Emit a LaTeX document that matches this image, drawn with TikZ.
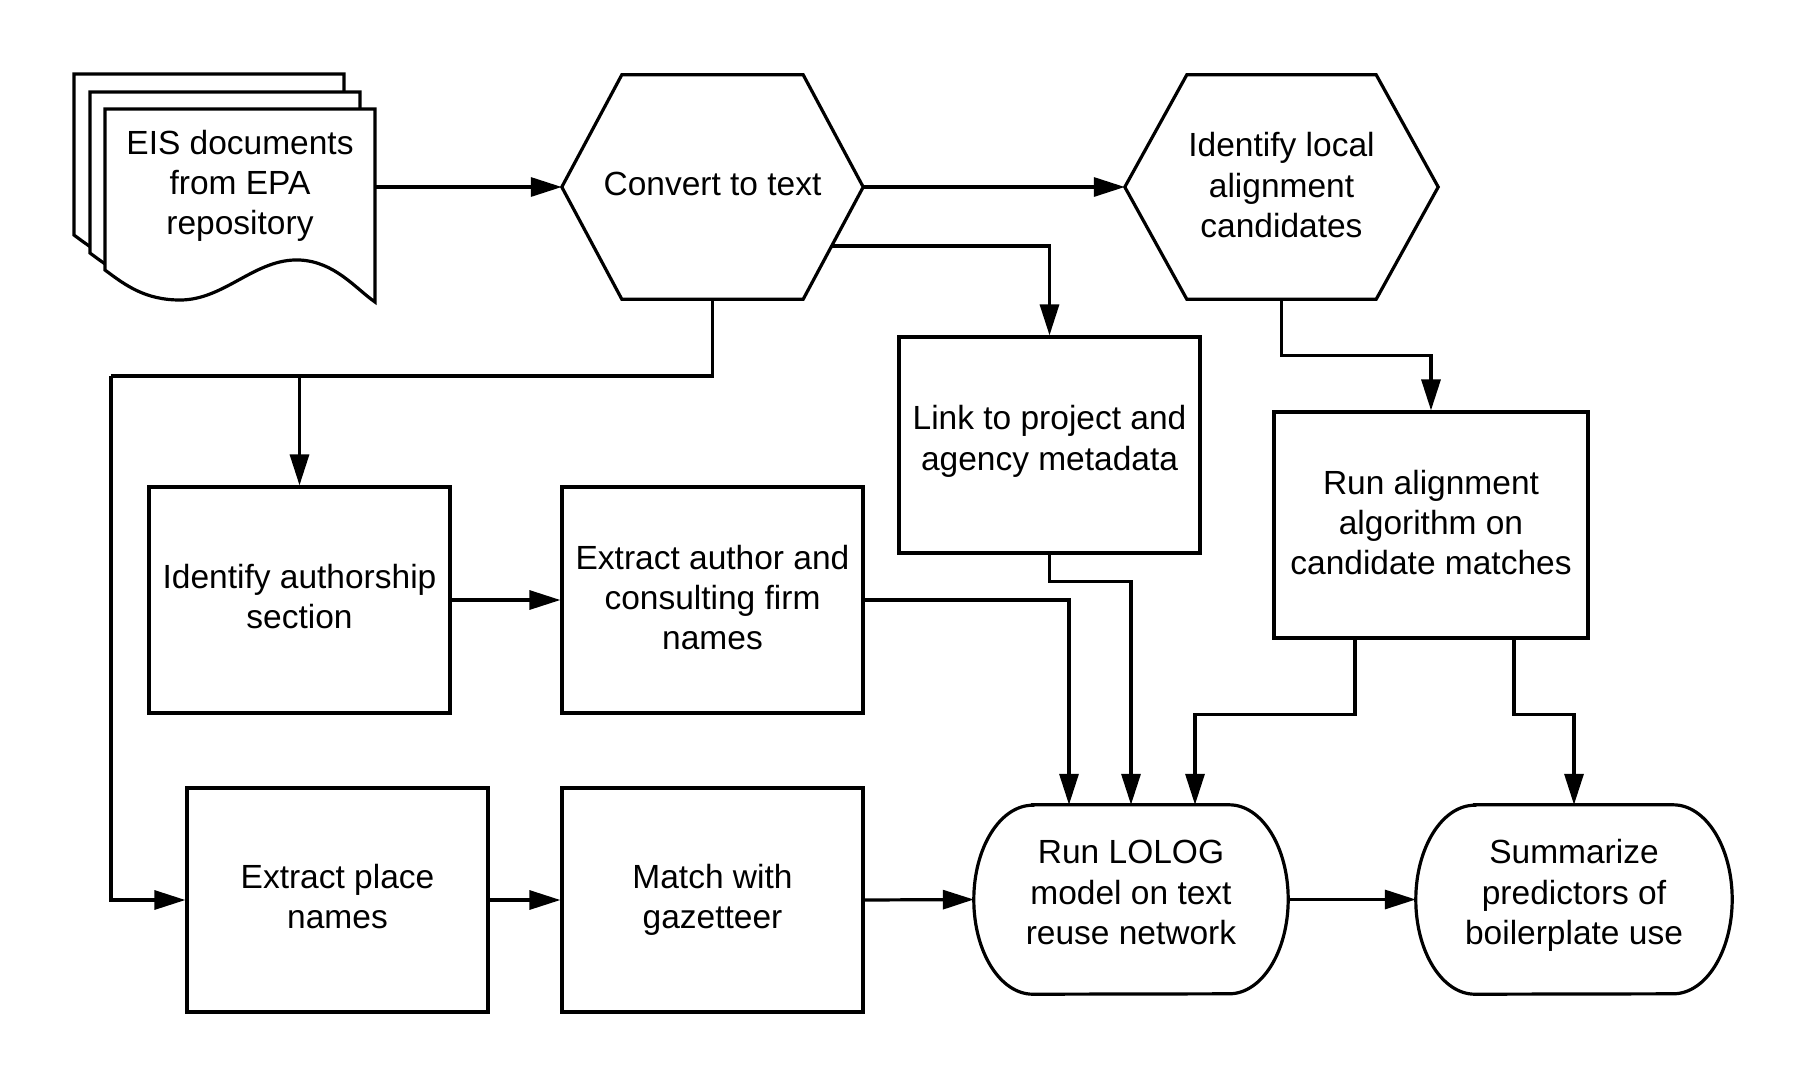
\documentclass[tikz,border=0pt]{standalone}
\usepackage{fontspec}
\setmainfont{Liberation Sans}
\usetikzlibrary{arrows.meta,calc}
\newcommand{\liftxt}[2]{\raisebox{#1}[\height][\depth]{\begin{tabular}{@{}c@{}}#2\end{tabular}}}
\begin{document}
\begin{tikzpicture}[x=1pt,y=-1pt,
  shp/.style={line width=3.2pt,line join=miter},
  txt/.style={draw=none,inner sep=0pt,font=\fontsize{33.5}{40.4}\selectfont},
  boxn/.style={txt,draw,line width=3.2pt,rectangle},
  arr/.style={line width=3.2pt,-{Triangle[length=31pt,width=19pt]}},
  ln/.style={line width=3.2pt}]
\useasboundingbox (0,0) rectangle (1808,1088);
\fill[white] (0,0) rectangle (1808,1088);

% document stack
\foreach \dx/\dy in {-31/-35,-15/-17,0/0}{
  \begin{scope}[shift={(\dx,\dy)}]
  \draw[shp,fill=white] (105,109) -- (375,109) -- (375,302)
     .. controls (355,288) and (335,262) .. (300,260)
     .. controls (255,258) and (225,300) .. (180,300)
     .. controls (145,300) and (125,285) .. (105,270) -- cycle;
  \end{scope}
}
\node[txt,minimum width=270pt] (eis) at (240,185) {\liftxt{-1.5pt}{EIS documents\\from EPA\\repository}};

% hexagons
\node[txt,minimum width=301pt,minimum height=224pt] (conv) at (712.5,187) {\liftxt{0pt}{Convert to text}};
\draw[shp] (conv.west) -- ([xshift=60pt]conv.north west) -- ([xshift=-60pt]conv.north east) -- (conv.east) -- ([xshift=-60pt]conv.south east) -- ([xshift=60pt]conv.south west) -- cycle;
\node[txt,minimum width=313pt,minimum height=224pt] (ident) at (1281.5,187) {\liftxt{-2.3pt}{Identify local\\alignment\\candidates}};
\draw[shp] (ident.west) -- ([xshift=62pt]ident.north west) -- ([xshift=-62pt]ident.north east) -- (ident.east) -- ([xshift=-62pt]ident.south east) -- ([xshift=62pt]ident.south west) -- cycle;

% boxes
\node[boxn,minimum width=301pt,minimum height=216pt] (link) at (1049.5,445) {\liftxt{3pt}{Link to project and\\agency metadata}};
\node[boxn,minimum width=314pt,minimum height=226pt] (align) at (1431,525) {\liftxt{-1.5pt}{Run alignment\\algorithm on\\candidate matches}};
\node[boxn,minimum width=301pt,minimum height=226pt] (auth) at (299.5,600) {\liftxt{-0.5pt}{Identify authorship\\section}};
\node[boxn,minimum width=301pt,minimum height=226pt] (firm) at (712.5,600) {\liftxt{-1.5pt}{Extract author and\\consulting firm\\names}};
\node[boxn,minimum width=301pt,minimum height=224pt] (place) at (337.5,900) {\liftxt{-0.5pt}{Extract place\\names}};
\node[boxn,minimum width=301pt,minimum height=224pt] (gaz) at (712.5,900) {\liftxt{-0.5pt}{Match with\\gazetteer}};

% terminators
\node[txt,minimum width=314pt,minimum height=189pt] (lolog) at (1131,899.5) {\liftxt{3.5pt}{Run LOLOG\\model on text\\reuse network}};
\draw[shp] ([xshift=59pt]lolog.north west) -- ([xshift=-59pt]lolog.north east)
  arc[start angle=-90,end angle=90,x radius=59,y radius=94.5]
  -- ([xshift=59pt]lolog.south west)
  arc[start angle=90,end angle=270,x radius=59,y radius=94.5] -- cycle;
\node[txt,minimum width=316pt,minimum height=189pt] (summ) at (1574,899.5) {\liftxt{3.5pt}{Summarize\\predictors of\\boilerplate use}};
\draw[shp] ([xshift=59pt]summ.north west) -- ([xshift=-59pt]summ.north east)
  arc[start angle=-90,end angle=90,x radius=59,y radius=94.5]
  -- ([xshift=59pt]summ.south west)
  arc[start angle=90,end angle=270,x radius=59,y radius=94.5] -- cycle;

% connectors
\coordinate (convout) at (831,246);
\coordinate (bus) at (111,376);
\draw[arr] (conv.west -| eis.east) -- (conv.west);
\draw[arr] (conv.east) -- (ident.west);
\draw[arr] (convout) -| (link.north);
\draw[ln] (conv.south) |- (bus);
\draw[arr] (bus) |- (place.west);
\draw[arr] (auth.north |- bus) -- (auth.north);
\draw[arr] (ident.south) -- ++(0,56) -| (align.north);
\draw[arr] (auth.east) -- (firm.west);
\draw[arr] (firm.east) -| ([xshift=-62pt]lolog.north);
\draw[arr] (link.south) -- ++(0,27) -| (lolog.north);
\draw[arr] ([xshift=-76pt]align.south) -- ++(0,75) -| ([xshift=64pt]lolog.north);
\draw[arr] ([xshift=83pt]align.south) -- ++(0,75) -| (summ.north);
\draw[arr] (place.east) -- (gaz.west);
\draw[arr] (gaz.east) -- (lolog.west);
\draw[arr] (lolog.east) -- (summ.west);
\end{tikzpicture}
\end{document}
